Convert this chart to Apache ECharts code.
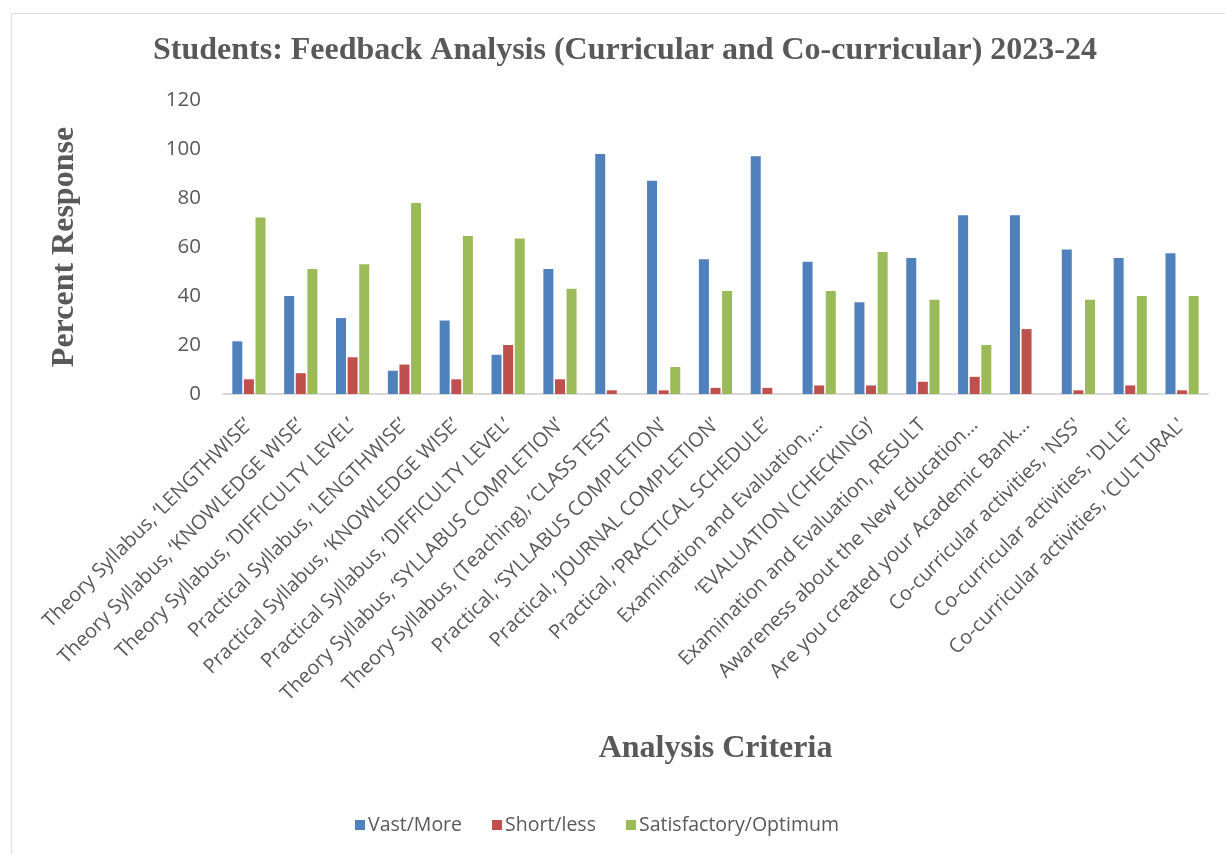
<!DOCTYPE html>
<html>
<head>
<meta charset="utf-8">
<script src="https://cdn.jsdelivr.net/npm/echarts@6/dist/echarts.min.js"></script>
<style>
html,body{margin:0;padding:0;background:#fff;overflow:hidden;}
#chart{width:1225px;height:854px;}
</style>
</head>
<body>
<div id="chart"></div>
<script>
const categories = [
  "Theory Syllabus, \u2018LENGTHWISE\u2019",
  "Theory Syllabus, \u2018KNOWLEDGE WISE\u2019",
  "Theory Syllabus, \u2018DIFFICULTY LEVEL\u2019",
  "Practical Syllabus, \u2018LENGTHWISE\u2019",
  "Practical Syllabus, \u2018KNOWLEDGE WISE\u2019",
  "Practical Syllabus, \u2018DIFFICULTY LEVEL\u2019",
  "Theory Syllabus, \u2018SYLLABUS COMPLETION\u2019",
  "Theory Syllabus, (Teaching), \u2018CLASS TEST\u2019",
  "Practical, \u2018SYLLABUS COMPLETION\u2019",
  "Practical, \u2018JOURNAL COMPLETION\u2019",
  "Practical, \u2018PRACTICAL SCHEDULE\u2019",
  "Examination and Evaluation,\u2026",
  "\u2018EVALUATION (CHECKING)\u2019",
  "Examination and Evaluation, RESULT",
  "Awareness about the New Education\u2026",
  "Are you created your Academic Bank\u2026",
  "Co-curricular activities, 'NSS'",
  "Co-curricular activities, 'DLLE'",
  "Co-curricular activities, 'CULTURAL'"
];
const vastMore = [21.5, 40, 31, 9.5, 30, 16, 51, 98, 87, 55, 97, 54, 37.5, 55.5, 73, 73, 59, 55.5, 57.5];
const shortLess = [6, 8.5, 15, 12, 6, 20, 6, 1.5, 1.5, 2.5, 2.5, 3.5, 3.5, 5, 7, 26.5, 1.5, 3.5, 1.5];
const satisfactory = [72, 51, 53, 78, 64.5, 63.5, 43, 0, 11, 42, 0, 42, 58, 38.5, 20, 0, 38.5, 40, 40];
const seriesNames = ["Vast/More", "Short/less", "Satisfactory/Optimum"];
const yTicks = { min: 0, max: 120, interval: 20 };

const colors = ["#4F81BD", "#C0504D", "#9BBB59"];
const textGray = "#595959";
const serif = "'Liberation Serif', 'Times New Roman', serif";
const sans = "'Open Sans', 'Noto Sans', sans-serif";

const chart = echarts.init(document.getElementById('chart'));
function bar(name, data, i) {
  return {
    name: name, type: 'bar', data: data,
    barWidth: 10, barGap: '16%',
    itemStyle: { color: colors[i] }
  };
}
chart.setOption({
  animation: false,
  color: colors,
  graphic: [{
    type: 'rect', left: 9, top: 11, shape: { width: 1400, height: 1000 },
    style: { fill: 'none', stroke: '#dedede', lineWidth: 1.2 }, silent: true, z: -1
  }],
  title: {
    text: 'Students: Feedback Analysis (Curricular and Co-curricular) 2023-24',
    left: 148, top: 30,
    textStyle: { fontFamily: serif, fontWeight: 'bold', fontSize: 32, color: textGray }
  },
  legend: {
    data: seriesNames,
    left: 350, top: 810,
    icon: 'rect', itemWidth: 10, itemHeight: 10, itemGap: 30,
    textStyle: { fontFamily: sans, fontSize: 19.5, color: textGray, padding: [0,0,0,-2] }
  },
  grid: { left: 223, right: 17, top: 100, bottom: 460, containLabel: false },
  xAxis: {
    type: 'category', data: categories,
    name: 'Analysis Criteria', nameLocation: 'middle', nameGap: 339,
    nameTextStyle: { fontFamily: serif, fontWeight: 'bold', fontSize: 32, color: textGray },
    axisLine: { show: true, lineStyle: { color: '#d9d9d9', width: 2 } },
    axisTick: { show: false },
    axisLabel: { rotate: 45, interval: 0, fontFamily: sans, fontSize: 20, color: textGray, margin: 28 }
  },
  yAxis: {
    type: 'value', min: yTicks.min, max: yTicks.max, interval: yTicks.interval,
    name: 'Percent Response', nameLocation: 'middle', nameGap: 142, nameRotate: 90,
    nameTextStyle: { fontFamily: serif, fontWeight: 'bold', fontSize: 32, color: textGray },
    axisLine: { show: false }, axisTick: { show: false },
    splitLine: { show: false },
    axisLabel: { fontFamily: sans, fontSize: 20.5, color: textGray, margin: 22 }
  },
  series: [bar(seriesNames[0], vastMore, 0), bar(seriesNames[1], shortLess, 1), bar(seriesNames[2], satisfactory, 2)]
});
</script>
</body>
</html>
